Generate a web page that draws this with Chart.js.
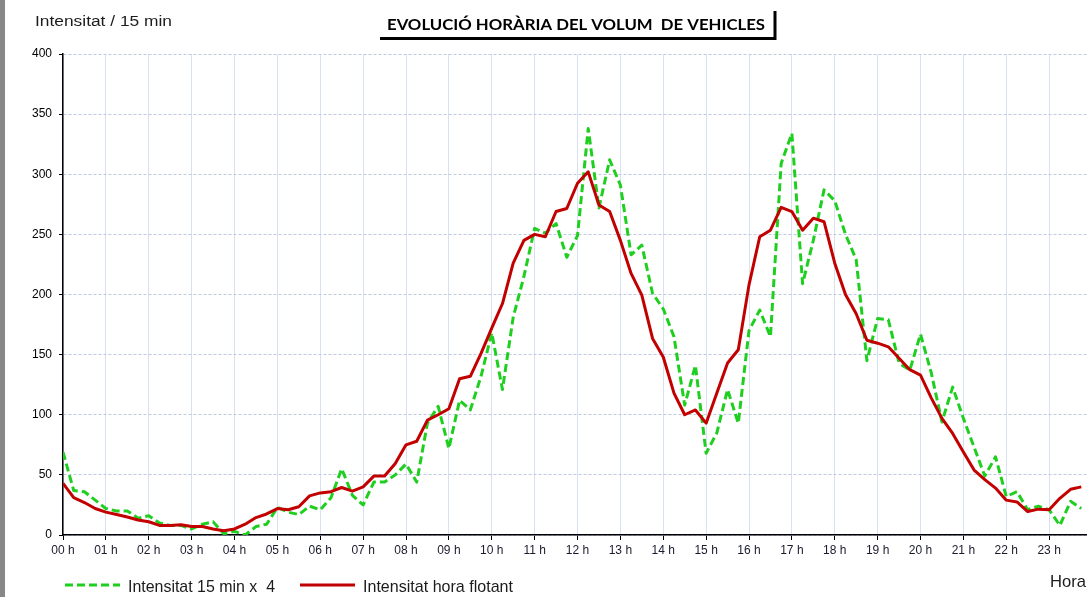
<!DOCTYPE html>
<html>
<head>
<meta charset="utf-8">
<script src="https://cdn.jsdelivr.net/npm/chart.js@4.4.1/dist/chart.umd.min.js"></script>
<style>
  html, body { margin: 0; padding: 0; background: #fff; overflow: hidden; }
  body { width: 1087px; height: 597px; position: relative; }
  #grafic { position: absolute; left: 0; top: 0; }
  #marge { position: absolute; left: 0; top: 0; width: 5px; height: 597px; background: #878787; }
</style>
</head>
<body>
<canvas id="grafic" width="1100" height="597"></canvas>
<div id="marge"></div>
<script>
// Etiquetes de l'eix horitzontal (una per hora)
const horesEtiquetes = ['00 h','01 h','02 h','03 h','04 h','05 h','06 h','07 h','08 h','09 h','10 h','11 h',
                        '12 h','13 h','14 h','15 h','16 h','17 h','18 h','19 h','20 h','21 h','22 h','23 h'];

// Intervals de 15 minuts
const quarts = [
  '00:00','00:15','00:30','00:45','01:00','01:15','01:30','01:45','02:00','02:15','02:30','02:45',
  '03:00','03:15','03:30','03:45','04:00','04:15','04:30','04:45','05:00','05:15','05:30','05:45',
  '06:00','06:15','06:30','06:45','07:00','07:15','07:30','07:45','08:00','08:15','08:30','08:45',
  '09:00','09:15','09:30','09:45','10:00','10:15','10:30','10:45','11:00','11:15','11:30','11:45',
  '12:00','12:15','12:30','12:45','13:00','13:15','13:30','13:45','14:00','14:15','14:30','14:45',
  '15:00','15:15','15:30','15:45','16:00','16:15','16:30','16:45','17:00','17:15','17:30','17:45',
  '18:00','18:15','18:30','18:45','19:00','19:15','19:30','19:45','20:00','20:15','20:30','20:45',
  '21:00','21:15','21:30','21:45','22:00','22:15','22:30','22:45','23:00','23:15','23:30','23:45'
];

// Intensitat de cada quart d'hora multiplicada per 4
const intensitat15x4 = [
   69,  37,  36,  29,  22,  20,  20,  14,  16,  10,   8,   8,
    5,   9,  11,   1,   3,   0,   7,   9,  23,  19,  17,  24,
   21,  31,  55,  33,  25,  44,  44,  50,  59,  44,  93, 107,
   72, 112, 104, 132, 168, 121, 181, 215, 255, 251, 259, 231,
  249, 338, 272, 312, 291, 233, 241, 201, 188, 165, 108, 141,
   68,  85, 121,  93, 170, 187, 165, 309, 334, 209, 245, 287,
  278, 250, 229, 145, 180, 179, 143, 137, 167, 135,  94, 123,
   97,  73,  49,  65,  32,  36,  21,  24,  21,   8,  28,  22
];

// Intensitat de l'hora flotant
const intensitatHoraFlotant = [
   43,  31,  27,  22,  19,  17,  15, 12.5, 11,   8,   8, 8.5,
    7,   7,   5, 3.5,   5,   9, 14.5, 17.5, 22,  21, 23.5, 32.5,
   35,  36, 39.5, 36.5, 40,  49,  49, 59.5, 75,  78, 95.5, 100,
  105, 130, 132, 151, 172, 192.5, 226, 245, 250, 248, 269, 271.5,
  292.5, 302, 274.5, 269, 245, 217.5, 199.5, 163.5, 148, 118, 100, 104,
   93, 118, 143, 154, 208, 248, 253.5, 272.5, 269, 253.5, 263.5, 260.5,
  226, 200, 184, 162, 159.5, 156.5, 147, 137.5, 133, 114,  97, 84.5,
   69,  54,  46,  39,  29, 27.5, 19.5, 21.5, 21, 30.5, 38,  40
];

const horaDecimal = t => { const [h, m] = t.split(':').map(Number); return h + m / 60; };
const punts = valors => quarts.map((t, i) => ({ x: horaDecimal(t), y: valors[i] }));

const VERD = '#1fcf1f';
const VERMELL = '#c20000';
const TEXT = '#1c1c1c';

// Escriu un text ajustat a una amplada donada
function textAjustat(ctx, text, x, y, font, amplada) {
  ctx.save();
  ctx.font = font;
  ctx.textAlign = 'left';
  ctx.textBaseline = 'alphabetic';
  const w = ctx.measureText(text).width;
  ctx.translate(x, y);
  ctx.scale(amplada / w, 1);
  ctx.fillText(text, 0, 0);
  ctx.restore();
}

const textos = {
  id: 'textos',
  afterDraw(chart) {
    const ctx = chart.ctx;
    ctx.save();

    // Títol amb vora inferior i dreta
    ctx.fillStyle = '#000';
    textAjustat(ctx, 'EVOLUCIÓ HORÀRIA DEL VOLUM  DE VEHICLES', 387, 29.5, 'bold 16px Lato', 378);
    ctx.strokeStyle = '#000';
    ctx.lineWidth = 3;
    ctx.beginPath();
    ctx.moveTo(380, 38.5);
    ctx.lineTo(775, 38.5);
    ctx.moveTo(775, 11);
    ctx.lineTo(775, 40);
    ctx.stroke();

    // Títol de l'eix vertical
    ctx.fillStyle = TEXT;
    textAjustat(ctx, 'Intensitat / 15 min', 35, 26, '15.5px "Liberation Sans"', 137);

    // Llegenda
    const ds = chart.data.datasets;
    const entrades = [
      { d: ds[0], x0: 65, x1: 120, tx: 128, w: 147 },
      { d: ds[1], x0: 300, x1: 355, tx: 363, w: 150 }
    ];
    const yl = 585;
    entrades.forEach(e => {
      ctx.save();
      ctx.strokeStyle = e.d.borderColor;
      ctx.lineWidth = e.d.borderWidth;
      ctx.setLineDash(e.d.borderDash || []);
      ctx.beginPath();
      ctx.moveTo(e.x0, yl);
      ctx.lineTo(e.x1, yl);
      ctx.stroke();
      ctx.restore();
      ctx.fillStyle = TEXT;
      textAjustat(ctx, e.d.label, e.tx, 591.5, '17px "Liberation Sans"', e.w);
    });

    // Títol de l'eix horitzontal
    textAjustat(ctx, 'Hora', 1050, 587, '17px "Liberation Sans"', 36);
    ctx.restore();
  }
};

new Chart(document.getElementById('grafic'), {
  type: 'line',
  data: {
    datasets: [
      {
        label: 'Intensitat 15 min x  4',
        data: punts(intensitat15x4),
        borderColor: VERD,
        borderWidth: 3,
        borderDash: [8, 4],
        borderJoinStyle: 'round',
        pointRadius: 0,
        tension: 0,
        fill: false,
        order: 1
      },
      {
        label: 'Intensitat hora flotant',
        data: punts(intensitatHoraFlotant),
        borderColor: VERMELL,
        borderWidth: 3,
        borderJoinStyle: 'round',
        pointRadius: 0,
        tension: 0,
        fill: false,
        order: 0
      }
    ]
  },
  options: {
    responsive: false,
    animation: false,
    devicePixelRatio: 1,
    layout: { padding: { top: 54, right: 8, left: 0, bottom: 0 } },
    plugins: { legend: { display: false }, tooltip: { enabled: false }, title: { display: false } },
    scales: {
      x: {
        type: 'linear',
        min: 0,
        max: 24,
        afterFit: s => { s.height = 62; },
        ticks: {
          stepSize: 1,
          autoSkip: false,
          maxRotation: 0,
          padding: 3,
          color: '#1a1a2e',
          font: { family: '"Liberation Sans"', size: 12 },
          callback: v => horesEtiquetes[v] ?? ''
        },
        grid: { color: '#d7e1f1', lineWidth: 1, drawTicks: true, tickLength: 5, tickColor: '#000' },
        border: { display: true, color: '#000', width: 1.5 }
      },
      y: {
        min: 0,
        max: 400,
        afterFit: s => { s.width = 63; },
        ticks: {
          stepSize: 50,
          padding: 7,
          color: '#000',
          font: { family: '"Liberation Sans"', size: 12 }
        },
        grid: { color: '#bccbe3', lineWidth: 1, drawTicks: true, tickLength: 4, tickColor: '#000' },
        border: { display: true, color: '#000', width: 1.5, dash: [3, 2] }
      }
    }
  },
  plugins: [textos]
});
</script>
</body>
</html>
